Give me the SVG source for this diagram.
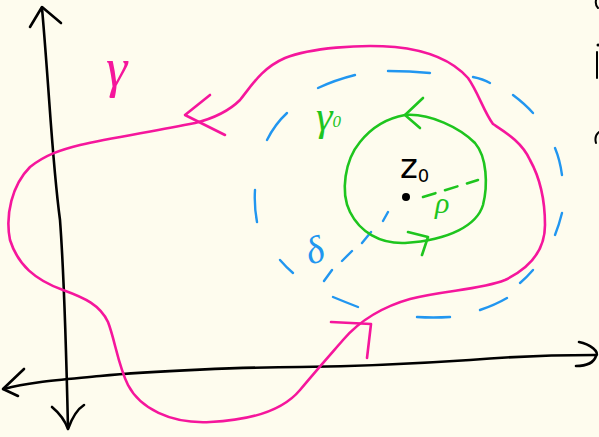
<svg xmlns="http://www.w3.org/2000/svg" width="599" height="437" viewBox="0 0 599 437">
<style>
.ax{fill:none;stroke:#000;stroke-width:2.6;stroke-linecap:round;stroke-linejoin:round}
.pk{fill:none;stroke:#F5169C;stroke-width:2.6;stroke-linecap:round;stroke-linejoin:round}
.gr{fill:none;stroke:#1EC51E;stroke-width:2.6;stroke-linecap:round;stroke-linejoin:round}
.bl{fill:none;stroke:#2196F0;stroke-width:2.4;stroke-linecap:round}
.lbl{font-family:"Liberation Serif",serif;font-style:italic}
.mark{fill:none;stroke:#000;stroke-width:2;stroke-linecap:round}
</style>
<rect width="599" height="437" fill="#FEFCEE"/>
<g id="axes">
<path class="ax" d="M42,8 C50,100 52,160 60,220 C63,260 66,340 68,428"/>
<path class="ax" d="M30,27 L42,7 L61,23"/>
<path class="ax" d="M52,407 C58,412 64,418 68,429 C72,418 76,410 84,405"/>
<path class="ax" d="M4,389 C30,382 60,380 100,376 C150,371 250,367 300,367 C380,366 440,362 470,360 C520,356 560,355 595,355"/>
<path class="ax" d="M24,369 L3,389 L18,396"/>
<path class="ax" d="M579,342 C590,344 600,352 596,356 C594,362 588,366 576,366"/>
</g>
<g id="gamma-curve">
<path class="pk" d="M240,100 C252,85 262,68 285,58 C310,48 360,44 395,47 C425,50 452,60 468,78 C478,92 484,112 493,124 C505,132 522,142 530,160 C540,178 545,200 545,225 C545,250 530,268 505,280 C480,290 445,290 410,299 C385,306 360,320 343,340 C330,355 315,372 300,390 C285,408 255,420 210,422 C170,424 140,408 128,385 C118,365 115,340 108,322 C100,305 85,298 63,290 C35,280 18,265 10,240 C5,215 12,185 30,167 C45,155 60,150 80,145 C110,138 150,132 195,123 C215,118 230,110 240,100 Z"/>
<path class="pk" d="M210,95 L185,115 L225,135"/>
<path class="pk" d="M331,322 L371,324 L367,358"/>
<text class="lbl" x="106" y="86" font-size="54" fill="#F5169C">γ</text>
</g>
<g id="delta-region">
<path class="bl" d="M318,88 Q335,80 355,75"/>
<path class="bl" d="M388,71 Q410,71 430,73"/>
<path class="bl" d="M473,77 Q483,79 490,83"/>
<path class="bl" d="M513,95 Q525,104 533,113"/>
<path class="bl" d="M555,148 Q560,160 562,175"/>
<path class="bl" d="M562,213 Q559,225 555,235"/>
<path class="bl" d="M533,270 Q527,277 520,283"/>
<path class="bl" d="M507,298 Q495,305 480,310"/>
<path class="bl" d="M450,317 Q433,318 417,317"/>
<path class="bl" d="M358,307 Q345,302 333,297"/>
<path class="bl" d="M293,273 Q286,267 280,260"/>
<path class="bl" d="M257,222 Q254,206 255,190"/>
<path class="bl" d="M267,140 Q275,124 287,113"/>
<path class="bl" d="M388,212 L383,221 M371,232 L362,243 M352,251 L342,261 M332,270 L324,281"/>
<text class="lbl" x="305" y="262" font-size="38" fill="#2196F0" transform="rotate(-18 317 248)">δ</text>
</g>
<g id="gamma0-circle">
<path class="gr" d="M405,115 C430,113 460,128 475,143 C487,157 488,185 483,205 C477,225 450,240 405,243 C380,244 360,232 350,212 C340,192 345,160 360,142 C372,127 388,118 405,115 Z"/>
<path class="gr" d="M423,98 L405,115 L420,128"/>
<path class="gr" d="M408,232 L428,237 L422,255"/>
<path class="gr" d="M423,197 L478,180" stroke-dasharray="13 10"/>
<text class="lbl" x="316" y="130" font-size="42" fill="#1EC51E">γ<tspan font-size="17" dy="-3">0</tspan></text>
<text class="lbl" x="435" y="213" font-size="30" fill="#1EC51E">ρ</text>
</g>
<g id="z0">
<circle cx="406" cy="197" r="4" fill="#000"/>
<text x="400" y="178" font-size="34" fill="#000" font-family="DejaVu Sans,sans-serif">z<tspan font-size="18" dy="4">0</tspan></text>
</g>
<g id="edge-marks">
<path class="mark" d="M596,0 Q595,5 598,8"/>
<circle cx="598" cy="45" r="1.5" fill="#000"/>
<path class="mark" d="M597,52 L597,78"/>
<path class="mark" d="M599,132 Q594,136 596,143"/>
</g>
</svg>
